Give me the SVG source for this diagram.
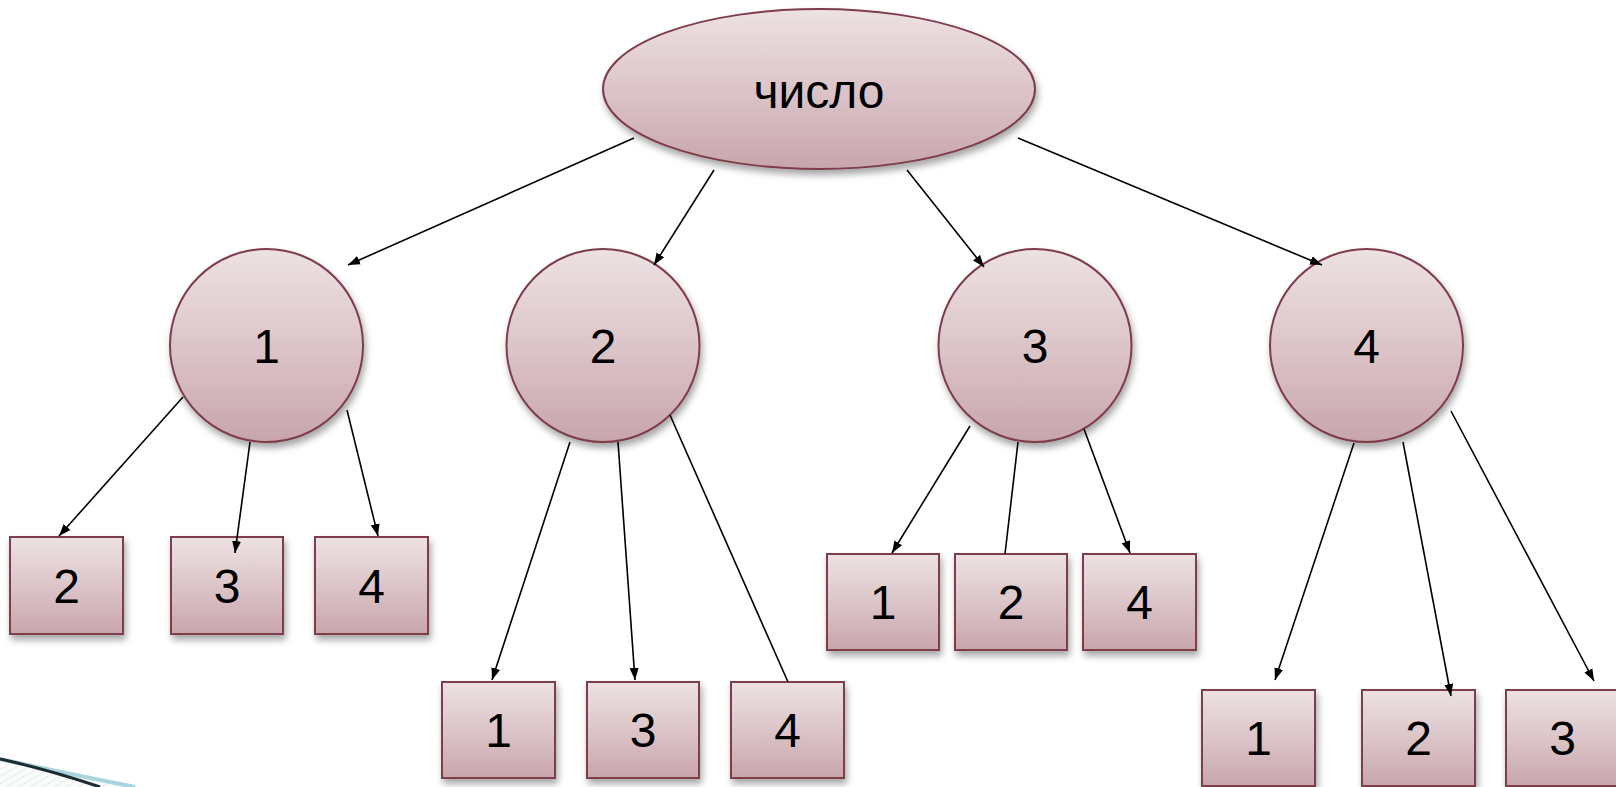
<svg xmlns="http://www.w3.org/2000/svg" width="1616" height="787" viewBox="0 0 1616 787">
<defs>
<linearGradient id="g" x1="0" y1="0" x2="0" y2="1">
<stop offset="0" stop-color="#ede1e3"/>
<stop offset="0.5" stop-color="#dcc5c9"/>
<stop offset="1" stop-color="#c8a5ac"/>
</linearGradient>
<filter id="sh" x="-20%" y="-20%" width="150%" height="150%">
<feDropShadow dx="2" dy="5" stdDeviation="3.5" flood-color="#000" flood-opacity="0.35"/>
</filter>
<marker id="ah" markerUnits="userSpaceOnUse" markerWidth="13" markerHeight="10" refX="12" refY="5" orient="auto">
<path d="M0,0.5 L12,5 L0,9.5 z" fill="#000"/>
</marker>
<pattern id="hatch" width="6" height="6" patternUnits="userSpaceOnUse" patternTransform="rotate(60)">
<rect width="6" height="6" fill="#fafbfb"/>
<line x1="0" y1="0" x2="0" y2="6" stroke="#d8dcdd" stroke-width="1"/>
</pattern>
</defs>
<style>
.n{fill:url(#g);stroke:#7d3c4b;stroke-width:2;filter:url(#sh)}
.t{font-family:"Liberation Sans",Arial,sans-serif;font-size:48px;fill:#000;text-anchor:middle}
.c{stroke:#000;stroke-width:1.6;fill:none}
.a{marker-end:url(#ah)}
</style>
<rect width="1616" height="787" fill="#fff"/>
<g id="decor">
<path d="M0,759 Q60,772 135,787 L0,787 Z" fill="url(#hatch)"/>
<path d="M0,759 Q60,772 135,787" stroke="#a8d4dc" stroke-width="4" fill="none"/>
<path d="M0,759 Q50,770 100,787" stroke="#1b2b30" stroke-width="3" fill="none"/>
</g>
<g id="root"><ellipse class="n" cx="819" cy="89" rx="216" ry="80"/><text class="t" x="819" y="108">число</text></g>
<g id="c1"><circle class="n" cx="266.5" cy="345.5" r="96.5"/><text class="t" x="266.5" y="363">1</text></g>
<g id="c2"><circle class="n" cx="603" cy="345.5" r="96.5"/><text class="t" x="603" y="363">2</text></g>
<g id="c3"><circle class="n" cx="1035" cy="345.5" r="96.5"/><text class="t" x="1035" y="363">3</text></g>
<g id="c4"><circle class="n" cx="1366.5" cy="345.5" r="96.5"/><text class="t" x="1366.5" y="363">4</text></g>
<g id="b1-2"><rect class="n" x="10" y="537" width="113" height="97"/><text class="t" x="66.5" y="603">2</text></g>
<g id="b1-3"><rect class="n" x="171" y="537" width="112" height="97"/><text class="t" x="227" y="603">3</text></g>
<g id="b1-4"><rect class="n" x="315" y="537" width="113" height="97"/><text class="t" x="371.5" y="603">4</text></g>
<g id="b2-1"><rect class="n" x="442" y="682" width="113" height="96"/><text class="t" x="498.5" y="747">1</text></g>
<g id="b2-3"><rect class="n" x="587" y="682" width="112" height="96"/><text class="t" x="643" y="747">3</text></g>
<g id="b2-4"><rect class="n" x="731" y="682" width="113" height="96"/><text class="t" x="787.5" y="747">4</text></g>
<g id="b3-1"><rect class="n" x="827" y="554" width="112" height="96"/><text class="t" x="883" y="619">1</text></g>
<g id="b3-2"><rect class="n" x="955" y="554" width="112" height="96"/><text class="t" x="1011" y="619">2</text></g>
<g id="b3-4"><rect class="n" x="1083" y="554" width="113" height="96"/><text class="t" x="1139.5" y="619">4</text></g>
<g id="b4-1"><rect class="n" x="1202" y="690" width="113" height="96"/><text class="t" x="1258.5" y="755">1</text></g>
<g id="b4-2"><rect class="n" x="1362" y="690" width="113" height="96"/><text class="t" x="1418.5" y="755">2</text></g>
<g id="b4-3"><rect class="n" x="1506" y="690" width="113" height="96"/><text class="t" x="1562.5" y="755">3</text></g>
<g id="connectors">
<line class="c a" x1="634" y1="138" x2="348" y2="265"/>
<line class="c a" x1="714" y1="170" x2="654" y2="265"/>
<line class="c a" x1="907" y1="170" x2="984" y2="267"/>
<line class="c a" x1="1018" y1="138" x2="1322" y2="265"/>
<line class="c a" x1="183" y1="397" x2="59" y2="536"/>
<line class="c a" x1="250" y1="442" x2="235" y2="553"/>
<line class="c a" x1="347" y1="410" x2="378" y2="536"/>
<line class="c a" x1="570" y1="442" x2="492" y2="680"/>
<line class="c a" x1="618" y1="442" x2="635" y2="680"/>
<line class="c" x1="670" y1="415" x2="788" y2="682"/>
<line class="c a" x1="970" y1="426" x2="892" y2="553"/>
<line class="c" x1="1018" y1="442" x2="1005" y2="554"/>
<line class="c a" x1="1084" y1="429" x2="1130" y2="553"/>
<line class="c a" x1="1354" y1="443" x2="1275" y2="680"/>
<line class="c a" x1="1403" y1="442" x2="1451" y2="696"/>
<line class="c a" x1="1451" y1="411" x2="1594" y2="681"/>
</g>
</svg>
